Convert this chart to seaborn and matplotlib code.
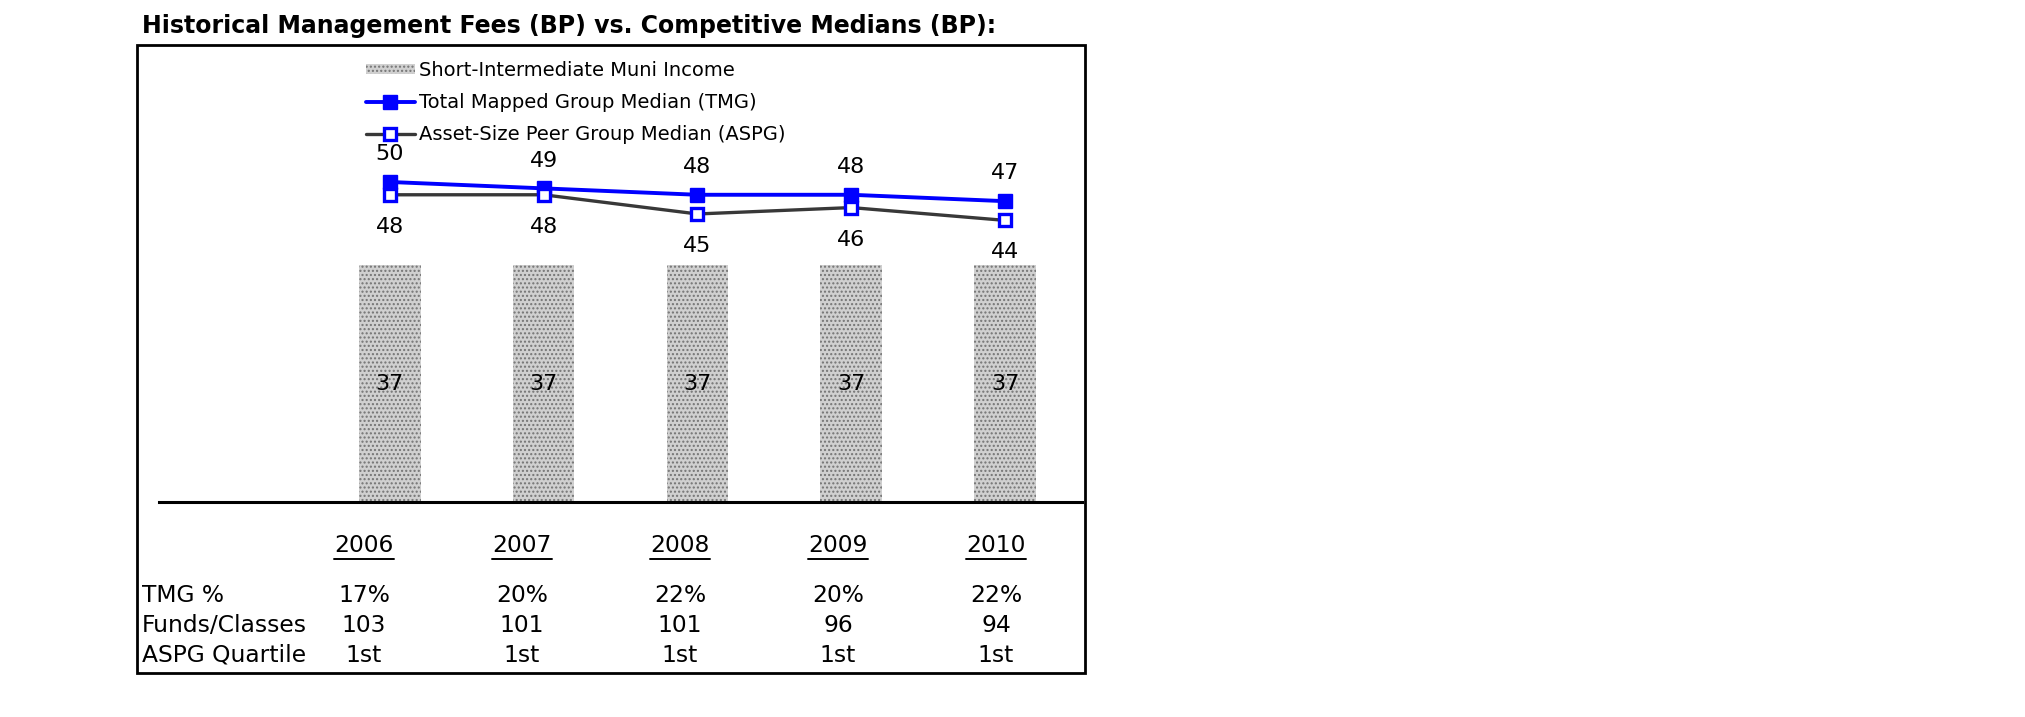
import numpy as np
import pandas as pd
import matplotlib
matplotlib.use("Agg")
import matplotlib.pyplot as plt
import seaborn as sns
from matplotlib.lines import Line2D
from matplotlib.patches import Patch, Rectangle

# ---------------- data ----------------
years = ["2006", "2007", "2008", "2009", "2010"]
fund_fee = [37, 37, 37, 37, 37]
tmg_median = [50, 49, 48, 48, 47]
aspg_median = [48, 48, 45, 46, 44]
tmg_pct = ["17%", "20%", "22%", "20%", "22%"]
funds_classes = ["103", "101", "101", "96", "94"]
aspg_quartile = ["1st", "1st", "1st", "1st", "1st"]
row_labels = ["TMG %", "Funds/Classes", "ASPG Quartile"]
series_names = ["Short-Intermediate Muni Income",
                "Total Mapped Group Median (TMG)",
                "Asset-Size Peer Group Median (ASPG)"]
title = "Historical Management Fees (BP) vs. Competitive Medians (BP):"

# ---------------- figure ----------------
W, H = 2025, 717
sns.set_style("white")
plt.rcParams["font.family"] = ["DejaVu Sans"]
plt.rcParams["text.color"] = "black"
fig = plt.figure(figsize=(W / 100, H / 100), dpi=100)


def fx(px):
    return px / W


def fy(py):
    return 1 - py / H


BAR_FACE = "#d0d0d0"
BAR_HATCH = "#747474"
TABLE_FS = 16.8

# main chart axes (bottom = baseline line)
ax = fig.add_axes([fx(159), fy(502), (1082 - 159) / W, (502 - 45) / H])
df = pd.DataFrame({"year": years, "fee": fund_fee})
sns.barplot(data=df, x="year", y="fee", ax=ax, color=BAR_FACE,
            saturation=1, width=0.40, zorder=2)
for p in ax.patches:
    p.set_hatch("....")
    p.set_edgecolor(BAR_HATCH)
    p.set_linewidth(0)
ax.bar_label(ax.containers[0], labels=[str(v) for v in fund_fee],
             label_type="center", fontsize=16, color="black")

x = np.arange(len(years))
ax.plot(x, tmg_median, color="#0000ff", lw=2.8, marker="s", ms=10.5,
        mfc="#0000ff", mec="#0000ff", zorder=4)
ax.plot(x, aspg_median, color="#383838", lw=2.4, marker="s", ms=9,
        mfc="white", mec="#0000ff", mew=2.4, zorder=5)

for i, v in enumerate(tmg_median):
    ax.annotate(str(v), (i, v), xytext=(0, 20), textcoords="offset points",
                ha="center", va="center", fontsize=16, color="black")
for i, v in enumerate(aspg_median):
    ax.annotate(str(v), (i, v), xytext=(0, -23), textcoords="offset points",
                ha="center", va="center", fontsize=16, color="black")

ax.set_xlim(-1.5, 4.5)
ax.set_ylim(0, 71.4)
ax.set_xticks([])
ax.set_yticks([])
ax.set_xlabel("")
ax.set_ylabel("")
for s in ["top", "left", "right"]:
    ax.spines[s].set_visible(False)
ax.spines["bottom"].set_linewidth(2.2)
ax.spines["bottom"].set_color("black")
ax.patch.set_alpha(0)

# legend
handles = [
    Patch(facecolor=BAR_FACE, edgecolor=BAR_HATCH, hatch="....", linewidth=0),
    Line2D([], [], color="#0000ff", lw=2.8, marker="s", ms=10.5,
           mfc="#0000ff", mec="#0000ff"),
    Line2D([], [], color="#383838", lw=2.4, marker="s", ms=9,
           mfc="white", mec="#0000ff", mew=2.4),
]
fig.legend(handles, series_names, loc="upper left",
           bbox_to_anchor=(fx(366), fy(61)), frameon=False, fontsize=14,
           borderpad=0, borderaxespad=0, handlelength=2.5,
           handletextpad=0.25, labelspacing=0.68, handleheight=0.45,
           labelcolor="black")

# title
fig.text(fx(142), fy(26), title, fontsize=17, fontweight="bold",
         ha="left", va="center", color="black")

# frame
fig.add_artist(Rectangle((fx(137), fy(673)), (1085 - 137) / W,
                         (673 - 45) / H, transform=fig.transFigure,
                         fill=False, lw=2, ec="black"))

# table below chart
col0, col_step = 364, 158
renderer = fig.canvas.get_renderer()
for i, yr in enumerate(years):
    t = fig.text(fx(col0 + col_step * i), fy(545), yr, fontsize=TABLE_FS,
                 ha="center", va="center", color="black")
    bb = t.get_window_extent(renderer=renderer)
    x0, x1 = bb.x0 / W, bb.x1 / W
    fig.add_artist(Line2D([x0, x1], [fy(559), fy(559)],
                          transform=fig.transFigure, color="black", lw=1.4))

rows = [tmg_pct, funds_classes, aspg_quartile]
row_y = [595, 625, 655]
for lab, vals, ry in zip(row_labels, rows, row_y):
    fig.text(fx(142), fy(ry), lab, fontsize=TABLE_FS, ha="left", va="center",
             color="black")
    for i, v in enumerate(vals):
        fig.text(fx(col0 + col_step * i), fy(ry), v, fontsize=TABLE_FS,
                 ha="center", va="center", color="black")

fig.savefig("out.png", dpi=100)
